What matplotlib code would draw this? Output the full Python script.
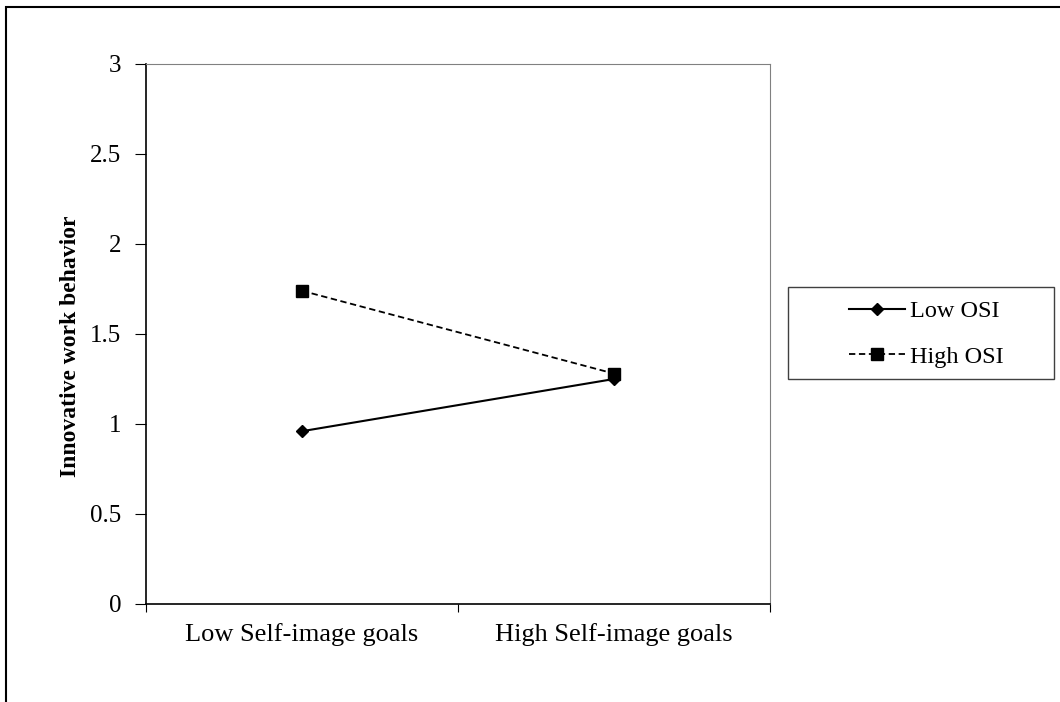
import matplotlib.pyplot as plt
from matplotlib.patches import Rectangle

plt.rcParams['font.family'] = ['Liberation Serif', 'DejaVu Serif']

# === Data ===
categories = ['Low Self-image goals', 'High Self-image goals']
low_osi = [0.96, 1.25]
high_osi = [1.74, 1.28]
y_ticks = [0, 0.5, 1, 1.5, 2, 2.5, 3]
y_tick_labels = ['0', '0.5', '1', '1.5', '2', '2.5', '3']

# === Figure ===
W, H = 1060, 702
fig = plt.figure(figsize=(W / 100, H / 100), dpi=100)
ax = fig.add_axes([146 / W, 1 - 604 / H, 624 / W, 540 / H])

# outer frame (only left and top visible in the original)
fig.patches.append(Rectangle((6 / W, -0.1), 1.2, 1 - 7 / H + 0.1,
                             transform=fig.transFigure, fill=False,
                             edgecolor='black', linewidth=1.5))
# legend frame
fig.patches.append(Rectangle((788 / W, 1 - 379 / H), 266 / W, 92 / H,
                             transform=fig.transFigure, fill=False,
                             edgecolor='#404040', linewidth=1.0))

x = [0.5, 1.5]
ax.plot(x, low_osi, color='black', linewidth=1.5, marker='D', markersize=6.5,
        label='Low OSI')
ax.plot(x, high_osi, color='black', linewidth=1.3, linestyle=(0, (3.5, 2)),
        marker='s', markersize=8, label='High OSI')

ax.set_xlim(0, 2)
ax.set_ylim(0, 3)
ax.set_yticks(y_ticks)
ax.set_yticklabels(y_tick_labels)
ax.set_xticks([0, 1, 2])
ax.set_xticklabels([])
ax.set_xticks(x, minor=True)
ax.set_xticklabels(categories, minor=True)
ax.tick_params(axis='x', which='minor', length=0, pad=14, labelsize=19)
ax.tick_params(axis='x', which='major', direction='out', length=6)
ax.tick_params(axis='y', direction='out', length=8, labelsize=18, pad=10)

for s in ['top', 'right']:
    ax.spines[s].set_color('#808080')
ax.spines['left'].set_linewidth(1.2)
ax.spines['bottom'].set_linewidth(1.2)

ax.set_ylabel('Innovative work behavior', fontsize=17, fontweight='bold')
ax.yaxis.set_label_coords(-0.104, 0.478)

leg = fig.legend(loc='center left', bbox_to_anchor=(849 / W, 1 - 334 / H),
                 fontsize=17.5, frameon=False, handlelength=2.3,
                 handletextpad=0.2, labelspacing=0.95,
                 borderpad=0, borderaxespad=0)

fig.savefig('out.png', dpi=100)
